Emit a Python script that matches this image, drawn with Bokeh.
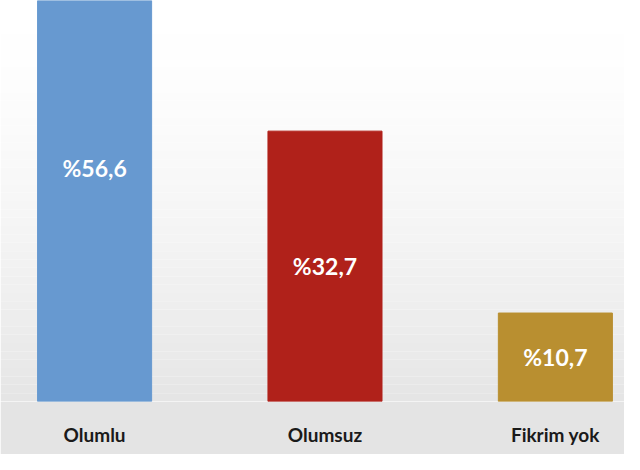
import numpy as np
from bokeh.plotting import figure
from bokeh.models import Range1d, FixedTicker, BoxAnnotation, ColumnDataSource
from bokeh.core.properties import value
from bokeh.embed import file_html
from bokeh.resources import INLINE

# --- data ---
categories = ["Olumlu", "Olumsuz", "Fikrim yok"]
values = [56.6, 32.7, 10.7]
colors = ["#6799d0", "#b0211a", "#b98f30"]
value_labels = ["%" + f"{v:.1f}".replace(".", ",") for v in values]
positions = list(range(len(categories)))

src = ColumnDataSource(dict(
    x=positions, top=values, mid=[v / 2 for v in values],
    color=colors, label=value_labels,
))

Y_END = 48.5
p = figure(width=624, height=454, output_backend="svg", toolbar_location=None,
           x_range=Range1d(-0.4084, 2.300), y_range=Range1d(0, Y_END),
           min_border_left=0, min_border_right=0, min_border_top=0,
           min_border_bottom=53)

# soft vertical gradient background (white top -> light grey bottom)
n = 48
edges = np.linspace(0, Y_END, n + 1)
for i in range(n):
    t = 1 - (edges[i] + edges[i + 1]) / 2 / Y_END  # 0 at top, 1 at bottom
    g = int(round(255 - 26 * t ** 1.6))
    p.add_layout(BoxAnnotation(bottom=edges[i], top=edges[i + 1],
                               fill_color=f"#{g:02x}{g:02x}{g:02x}", fill_alpha=1,
                               line_color=None, level="underlay"))
p.border_fill_color = "#e4e4e4"
p.background_fill_color = "#ffffff"

p.vbar(x="x", top="top", bottom=0, width=0.495, color="color", source=src)

p.text(x="x", y="mid", text="label", source=src, text_color="white",
       text_font=value("Lato"), text_font_style="bold", text_font_size="23px",
       text_align="center", text_baseline="middle")

p.xaxis.ticker = FixedTicker(ticks=positions)
p.xaxis.major_label_overrides = {i: c for i, c in zip(positions, categories)}
p.xaxis.axis_line_color = None
p.xaxis.major_tick_line_color = None
p.xaxis.minor_tick_line_color = None
p.xaxis.major_tick_out = 0
p.xaxis.major_label_standoff = 21
p.xaxis.major_label_text_font = "Lato"
p.xaxis.major_label_text_font_style = "bold"
p.xaxis.major_label_text_font_size = "19px"
p.xaxis.major_label_text_color = "#1a1a1a"
p.yaxis.visible = False
p.grid.visible = False
p.outline_line_color = None

open("out.html", "w").write(file_html(p, INLINE))
